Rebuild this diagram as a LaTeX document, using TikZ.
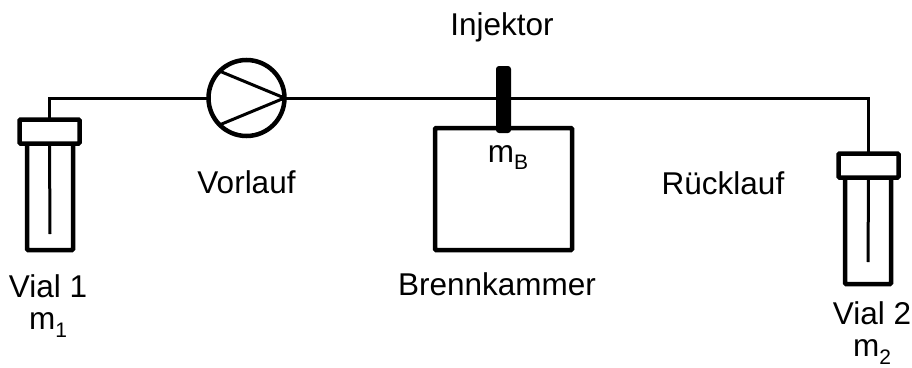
\documentclass[tikz,border=0pt]{standalone}
\usepackage{fontspec}
\setmainfont{Liberation Sans}
\usepackage{tikz}
\usetikzlibrary{positioning}
\newcommand{\massidx}[1]{\raisebox{-0.25em}{\fontsize{21}{21}\selectfont #1}}

\begin{document}
\begin{tikzpicture}[x=1pt, y=-1pt, node distance=34pt,
    part/.style={draw, line width=4.5pt, rectangle, rounded corners=1pt, outer sep=0pt, inner sep=0pt, fill=white},
    vialbody/.style={part, minimum width=46pt, minimum height=106.5pt},
    vialcap/.style={part, minimum width=60pt, minimum height=24pt},
    pipe/.style={line width=3pt},
    label/.style={font=\fontsize{31.5}{32}\selectfont, align=center, inner sep=0pt}]
    \useasboundingbox (0,0) rectangle (912,367);

    \node [vialbody] (bodyone) at (50,196.75) {};
    \node [vialcap] (capone) at (49.5,131.5) {};
    \coordinate (tubeone) at (50,234);
    \node [vialbody] (bodytwo) at (868,230.75) {};
    \node [vialcap] (captwo) at (868.5,165.5) {};
    \coordinate (tubetwo) at (868,262);

    \node [part, circle, minimum size=76pt] (pump) at (246.5,98) {};
    \node [part, minimum width=137pt, minimum height=122pt] (chamber) at (503.5,189) {};

    \path [pipe] (capone.south) edge (tubeone);
    \path [pipe] (captwo.south) edge (tubetwo);
    \draw [pipe] (capone.north) |- (pump.west);
    \draw [pipe] (pump.east) -| (captwo.north);
    \draw [pipe] (pump.135) -- (pump.east) -- (pump.225);
    \node [fill, rectangle, rounded corners=3pt, minimum width=15pt, minimum height=67pt, inner sep=0pt] (injector) at (503.5,99.5) {};

    \node [label] (injektor) at (502,27) {Injektor};
    \node [label, below=of pump] (vorlauf) {Vorlauf};
    \node [label] (ruecklauf) at (723,183) {Rücklauf};
    \node [label] (brennkammer) at (497,284) {Brennkammer};
    \node [label] (mb) at (508,157.5) {m\massidx{B}};
    \node [label] (vialone) at (48,306) {Vial 1\\m\massidx{1}};
    \node [label] (vialtwo) at (872,333) {Vial 2\\m\massidx{2}};
\end{tikzpicture}
\end{document}
